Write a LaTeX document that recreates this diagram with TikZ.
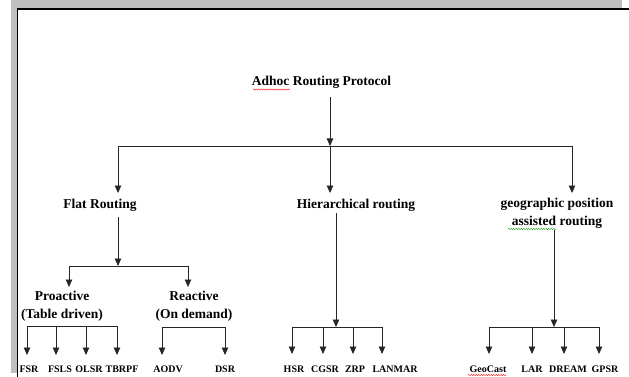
\documentclass[tikz,border=0pt]{standalone}
\usepackage{fontspec}
\setmainfont{Liberation Serif}
\usetikzlibrary{arrows.meta,decorations.pathmorphing}
\begin{document}
\begin{tikzpicture}[x=1pt,y=-1pt,
 lbl/.style={font=\bfseries\fontsize{13.5}{18}\selectfont, inner sep=0pt, anchor=base, align=center},
 leaf/.style={font=\bfseries\fontsize{10}{11}\selectfont, inner sep=0pt, anchor=base},
 conn/.style={draw=black!85, line width=0.9pt},
 arr/.style={conn, -{Triangle[length=7.5pt,width=6.5pt]}},
 squig/.style={decorate, decoration={snake,segment length=2.5pt,amplitude=0.6pt}, line width=0.4pt}
]
\useasboundingbox (0,0) rectangle (629,377);
% frame
\fill[gray!50] (11,0) rectangle (622,8.5);
\fill[gray!50] (11,0) rectangle (17,373);
\draw[black, line width=1.5pt] (629,9) -- (17.5,9) -- (17.5,377);

% labels (base = baseline of last line)
\node[lbl] (root) at (321.5,86) {Adhoc Routing Protocol};
\node[lbl] (flat) at (100,208) {Flat Routing};
\node[lbl] (hier) at (356,208) {Hierarchical routing};
\node[lbl] (geo) at (557,225.5) {geographic position\\assisted routing};
\node[lbl] (pro) at (62,318) {Proactive\\(Table driven)};
\node[lbl] (rea) at (194,318) {Reactive\\(On demand)};

\foreach \n/\t/\x in {fsr/FSR/29, fsls/FSLS/60, olsr/OLSR/89, tbrpf/TBRPF/122,
  aodv/AODV/168, dsr/DSR/225, hsr/HSR/294, cgsr/CGSR/325, zrp/ZRP/355,
  lanmar/LANMAR/395, geocast/GeoCast/488, lar/LAR/532, dream/DREAM/568, gpsr/GPSR/605}
  \node[leaf] (\n) at (\x,372) {\t};

% spell-check marks
\draw[squig, red] (253,89.5) -- (290,89.5);
\draw[squig, green!60!black] (508,229) -- (556,229);
\draw[squig, red] (468,375) -- (507,375);

% root level
\coordinate (r0) at (330,97);
\coordinate (r1) at (330,146);
\coordinate (b1) at (118,146);
\coordinate (b3) at (572,146);
\coordinate (fa) at (118,193);
\coordinate (ha) at (330,193);
\coordinate (ga) at (572,193);
\draw[arr] (r0) -- (r1);
\draw[conn] (b1) -- (b3);
\draw[arr] (b1) -- (fa);
\draw[arr] (r1) -- (ha);
\draw[arr] (b3) -- (ga);

% flat routing
\coordinate (f0) at (118,217);
\coordinate (f1) at (118,266);
\coordinate (fl) at (69,266);
\coordinate (fr) at (188,266);
\coordinate (pa) at (69,287);
\coordinate (ra) at (188,287);
\draw[arr] (f0) -- (f1);
\draw[conn] (fl) -- (fr);
\draw[arr] (fl) -- (pa);
\draw[arr] (fr) -- (ra);

% proactive children
\draw[conn] (27,326) coordinate (p1) -- (117,326) coordinate (p4);
\foreach \i/\x in {1/27,2/56,3/86,4/117}{
  \coordinate (pt\i) at (\x,326);
  \coordinate (pe\i) at (\x,355);
  \draw[arr] (pt\i) -- (pe\i);
}
% reactive children
\draw[conn] (162,327) coordinate (q1) -- (225,327) coordinate (q2);
\foreach \i/\x in {1/162,2/225}{
  \coordinate (qt\i) at (\x,327);
  \coordinate (qe\i) at (\x,355);
  \draw[arr] (qt\i) -- (qe\i);
}

% hierarchical
\coordinate (h0) at (336,213);
\coordinate (h1) at (336,327);
\draw[arr] (h0) -- (h1);
\draw[conn] (292,327) coordinate (hl) -- (382,327) coordinate (hr);
\foreach \i/\x in {1/292,2/323,3/353,4/382}{
  \coordinate (ht\i) at (\x,327);
  \coordinate (he\i) at (\x,354);
  \draw[arr] (ht\i) -- (he\i);
}

% geographic
\coordinate (g0) at (554,230);
\coordinate (g1) at (554,327);
\draw[arr] (g0) -- (g1);
\draw[conn] (489,327) coordinate (gl) -- (599,327) coordinate (gr);
\foreach \i/\x in {1/489,2/532,3/564,4/599}{
  \coordinate (gt\i) at (\x,327);
  \coordinate (ge\i) at (\x,354);
  \draw[arr] (gt\i) -- (ge\i);
}
\end{tikzpicture}
\end{document}
